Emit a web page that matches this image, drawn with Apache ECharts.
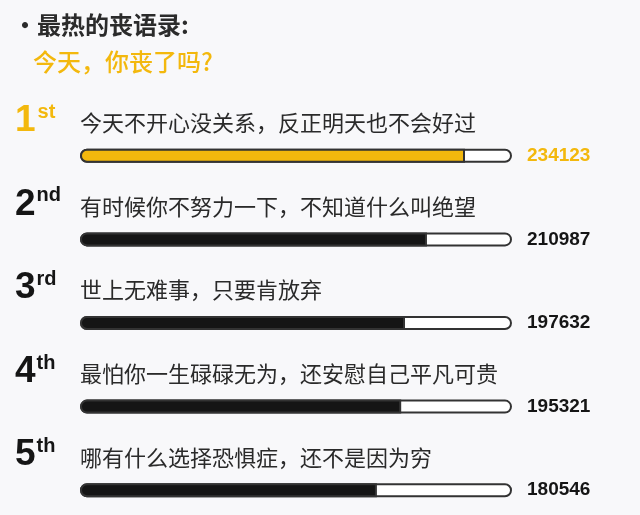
<!DOCTYPE html>
<html>
<head>
<meta charset="utf-8">
<script src="https://cdn.jsdelivr.net/npm/echarts@6/dist/echarts.min.js"></script>
<style>
html,body{margin:0;padding:0;background:#f8f8fa;}
#main{width:640px;height:515px;}
</style>
</head>
<body>
<div id="main"></div>
<script>
const titleText = '•最热的丧语录:';
const subtitleText = '今天，你丧了吗?';
const categories = [
  '今天不开心没关系，反正明天也不会好过',
  '有时候你不努力一下，不知道什么叫绝望',
  '世上无难事，只要肯放弃',
  '最怕你一生碌碌无为，还安慰自己平凡可贵',
  '哪有什么选择恐惧症，还不是因为穷'
];
const rankNumbers = ['1', '2', '3', '4', '5'];
const rankSuffixes = ['st', 'nd', 'rd', 'th', 'th'];
const values = [234123, 210987, 197632, 195321, 180546];
const axisMax = 262700;

const YELLOW = '#f3b80d';
const DARK = '#151515';
const TEXT = '#2a2a2a';

const chart = echarts.init(document.getElementById('main'), null, {renderer: 'canvas'});
const option = {
  backgroundColor: '#f8f8fa',
  animation: false,
  title: [
    {
      text: titleText,
      left: 8,
      top: 8,
      textStyle: {fontFamily: 'Noto Sans CJK SC', fontSize: 24, fontWeight: 'bold', color: '#2b2b2b'}
    },
    {
      text: subtitleText,
      left: 28,
      top: 45,
      textStyle: {fontFamily: 'Noto Sans CJK SC', fontSize: 24, fontWeight: 500, color: YELLOW}
    }
  ],
  grid: {left: 80, right: 128, top: 114, height: 418, containLabel: false, outerBoundsMode: 'none'},
  xAxis: {
    type: 'value', min: 0, max: axisMax, show: false
  },
  yAxis: {
    type: 'category',
    data: categories,
    inverse: true,
    axisLine: {show: false},
    axisTick: {show: false},
    splitLine: {show: false},
    axisLabel: {
      show: true,
      align: 'left',
      margin: 65,
      padding: [0, 0, 70, 0],
      formatter: function (v, i) {
        const k = i === 0 ? 'y' : 'd';
        return '{n' + k + '|' + rankNumbers[i] + '}{s' + k + '|' + rankSuffixes[i] + '}';
      },
      rich: {
        ny: {fontFamily: 'Liberation Sans', fontSize: 37, fontWeight: 'bold', color: YELLOW, lineHeight: 37},
        sy: {fontFamily: 'Liberation Sans', fontSize: 20, fontWeight: 'bold', color: YELLOW, verticalAlign: 'top', lineHeight: 20, padding: [0, 0, 0, 2]},
        nd: {fontFamily: 'Liberation Sans', fontSize: 37, fontWeight: 'bold', color: DARK, lineHeight: 37},
        sd: {fontFamily: 'Liberation Sans', fontSize: 20, fontWeight: 'bold', color: DARK, verticalAlign: 'top', lineHeight: 20, padding: [0, 0, 0, 1]}
      }
    }
  },
  series: [
    {
      name: 'track',
      type: 'bar',
      barWidth: 14,
      barGap: '-100%',
      silent: true,
      data: categories.map(function (c, i) {
        return {value: axisMax, label: {color: i === 0 ? YELLOW : DARK}};
      }),
      itemStyle: {color: '#ffffff', borderColor: '#333333', borderWidth: 2, borderRadius: 7},
      label: {
        show: true,
        position: 'right',
        distance: 15,
        formatter: function (p) { return values[p.dataIndex]; },
        fontFamily: 'Liberation Sans',
        fontSize: 19,
        fontWeight: 'bold',
        color: DARK
      },
      z: 2
    },
    {
      name: 'value',
      type: 'bar',
      barWidth: 14,
      data: values.map(function (v, i) {
        return {
          value: v,
          itemStyle: {color: i === 0 ? YELLOW : DARK, borderColor: '#333333', borderWidth: 2, borderRadius: [7, 0, 0, 7]}
        };
      }),
      label: {
        show: true,
        position: [0, -26],
        align: 'left',
        verticalAlign: 'middle',
        formatter: function (p) { return categories[p.dataIndex]; },
        fontFamily: 'Noto Sans CJK SC',
        fontSize: 22,
        color: TEXT
      },
      z: 3
    }
  ]
};
chart.setOption(option);
</script>
</body>
</html>
